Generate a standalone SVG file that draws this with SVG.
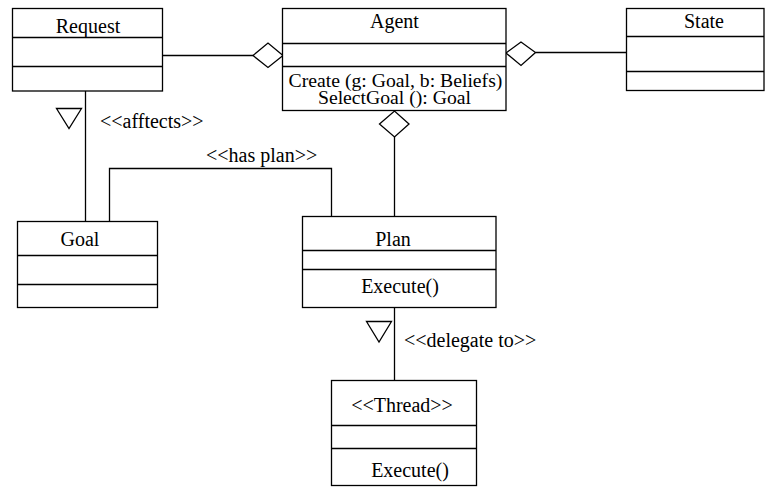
<svg xmlns="http://www.w3.org/2000/svg" width="765" height="487" viewBox="0 0 765 487">
  <style>
    .box { fill: #ffffff; stroke: #000000; stroke-width: 1.3; }
    .div { stroke: #000000; stroke-width: 1.3; fill: none; }
    .edge { stroke: #000000; stroke-width: 1.3; fill: none; }
    .agg { fill: #ffffff; stroke: #000000; stroke-width: 1.3; }
    .tri { fill: #ffffff; stroke: #000000; stroke-width: 1.3; }
    text { font-family: "Liberation Serif", "DejaVu Serif", serif; font-size: 20px; fill: #000000; }
    .c { text-anchor: middle; }
    .op { font-size: 19.7px; }
  </style>
  <rect x="0" y="0" width="765" height="487" fill="#ffffff"/>

  <!-- associations and dependencies -->
  <g id="connectors">
    <line class="edge" x1="162.5" y1="55.5" x2="253" y2="55.5"/>
    <polygon class="agg" points="253,55.5 268,43 283,55.5 268,67.5"/>

    <line class="edge" x1="535.5" y1="52.5" x2="626.5" y2="52.5"/>
    <polygon class="agg" points="506,53 521,42 535.5,52.5 521,65.5"/>

    <line class="edge" x1="394.5" y1="137" x2="394.5" y2="216.5"/>
    <polygon class="agg" points="379.5,124 394.5,111 409,124 394.5,137"/>

    <line class="edge" x1="85.5" y1="91" x2="85.5" y2="221.5"/>
    <polygon class="tri" points="56.5,108.5 81.5,108.5 69,128.5"/>
    <text x="100" y="128">&lt;&lt;afftects&gt;&gt;</text>

    <polyline class="edge" points="109.5,221.5 109.5,168.5 331.5,168.5 331.5,216.5"/>
    <text x="206" y="162">&lt;&lt;has plan&gt;&gt;</text>

    <line class="edge" x1="394.5" y1="307.5" x2="394.5" y2="380.5"/>
    <polygon class="tri" points="366.5,321.5 391.5,321.5 379,342"/>
    <text x="404" y="347">&lt;&lt;delegate to&gt;&gt;</text>
  </g>

  <g id="request">
    <rect class="box" x="12.5" y="8.5" width="150" height="82.5"/>
    <line class="div" x1="12.5" y1="37.5" x2="162.5" y2="37.5"/>
    <line class="div" x1="12.5" y1="66.5" x2="162.5" y2="66.5"/>
    <text class="c" x="88" y="33">Request</text>
  </g>

  <g id="agent">
    <rect class="box" x="282.5" y="8.5" width="223.5" height="102"/>
    <line class="div" x1="282.5" y1="43.5" x2="506" y2="43.5"/>
    <line class="div" x1="282.5" y1="66.5" x2="506" y2="66.5"/>
    <text class="c" x="394.5" y="27.5">Agent</text>
    <text class="c op" x="395.5" y="86.5">Create (g: Goal, b: Beliefs)</text>
    <text class="c op" x="394.5" y="103.5">SelectGoal (): Goal</text>
  </g>

  <g id="state">
    <rect class="box" x="626.5" y="8.5" width="137.5" height="82"/>
    <line class="div" x1="626.5" y1="36.5" x2="764" y2="36.5"/>
    <line class="div" x1="626.5" y1="71.5" x2="764" y2="71.5"/>
    <text class="c" x="704" y="28">State</text>
  </g>

  <g id="goal">
    <rect class="box" x="17.5" y="221.5" width="140" height="86"/>
    <line class="div" x1="17.5" y1="255.5" x2="157.5" y2="255.5"/>
    <line class="div" x1="17.5" y1="284.5" x2="157.5" y2="284.5"/>
    <text class="c" x="80" y="246">Goal</text>
  </g>

  <g id="plan">
    <rect class="box" x="302.5" y="216.5" width="193.5" height="91"/>
    <line class="div" x1="302.5" y1="250.5" x2="496" y2="250.5"/>
    <line class="div" x1="302.5" y1="269.5" x2="496" y2="269.5"/>
    <text class="c" x="393" y="245.5">Plan</text>
    <text class="c" x="400" y="293">Execute()</text>
  </g>

  <g id="thread">
    <rect class="box" x="331.5" y="380.5" width="145" height="105"/>
    <line class="div" x1="331.5" y1="425.5" x2="476.5" y2="425.5"/>
    <line class="div" x1="331.5" y1="448.5" x2="476.5" y2="448.5"/>
    <text class="c" x="402" y="411.5">&lt;&lt;Thread&gt;&gt;</text>
    <text class="c" x="410" y="476.5">Execute()</text>
  </g>
</svg>
